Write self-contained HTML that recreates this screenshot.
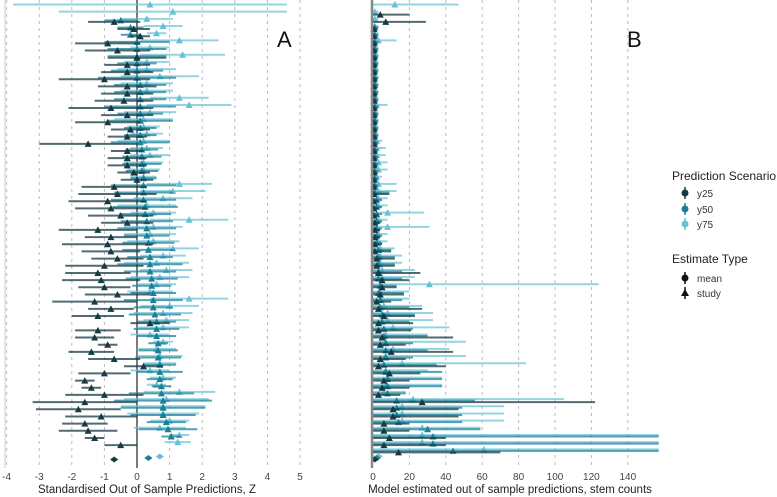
<!DOCTYPE html>
<html><head><meta charset="utf-8">
<style>
body{margin:0;background:#fff;}
svg{display:block;font-family:"Liberation Sans",sans-serif;}
</style></head><body>
<svg id="chart" width="777" height="497" viewBox="0 0 777 497">
<g id="gA"></g>
<g id="gB"></g>
<g id="legend">
<text x="672" y="180" font-size="12" fill="#222">Prediction Scenario</text>
<g><line x1="685" y1="187" x2="685" y2="199" stroke="#173a42" stroke-width="1.5"/><circle cx="685" cy="193" r="3.5" fill="#173a42"/><text x="697" y="197" font-size="10" fill="#333">y25</text></g>
<g><line x1="685" y1="203" x2="685" y2="215" stroke="#1b8097" stroke-width="1.5"/><circle cx="685" cy="209" r="3.5" fill="#1b8097"/><text x="697" y="213" font-size="10" fill="#333">y50</text></g>
<g><line x1="685" y1="218" x2="685" y2="230" stroke="#67c0d6" stroke-width="1.5"/><circle cx="685" cy="224" r="3.5" fill="#67c0d6"/><text x="697" y="228" font-size="10" fill="#333">y75</text></g>
<text x="672" y="263" font-size="12" fill="#222">Estimate Type</text>
<g><line x1="685" y1="272" x2="685" y2="284" stroke="#111" stroke-width="1.5"/><circle cx="685" cy="278" r="3.5" fill="#111"/><text x="697" y="282" font-size="10" fill="#333">mean</text></g>
<g><line x1="685" y1="287" x2="685" y2="299" stroke="#111" stroke-width="1.5"/><path d="M681,296 L689,296 L685,289 Z" fill="#111"/><text x="697" y="297" font-size="10" fill="#333">study</text></g>
</g>
</svg>
<script>
// Panel A data (standardised Z), one row per study; last row = mean
const a25 = [null,null,-0.7,-0.1,0.1,-0.9,-0.6,0.0, -0.3,-0.3,-1.0,-0.3,-0.3,-0.4,-0.8,-0.3, -0.9,-0.2,-0.3,-1.5,-0.3,-0.3,-0.3,-0.1, 0.0,-0.7,-0.6,-0.9,-0.8,-0.5,-0.3,-1.2, -0.8,-0.9,-0.8,-0.6,-1.0,-1.2,-1.1,-1.0, -0.6,-1.3,-0.8,-1.2,0.4,-1.2,-1.3,-0.9, -1.4,-0.7,0.2,-1.0,-1.6,-1.4,-1.0,-1.6, -1.8,-1.1,-1.6,-1.5,-1.3,-0.5,null,-0.7];
const a50 = [null,null,-0.5,-0.2,-0.2,0.0,0.0,0.0, 0.0,0.0,0.0,0.1,0.1,0.1,0.1,0.1, 0.1,0.1,0.1,0.1,0.15,0.15,0.15,0.15, 0.2,0.2,0.2,0.2,0.25,0.25,0.3,0.3, 0.3,0.35,0.35,0.4,0.4,0.4,0.45,0.45, 0.5,0.5,0.5,0.55,0.6,0.6,0.6,0.65, 0.65,0.65,0.7,0.7,0.7,0.75,0.75,0.8, 0.8,0.8,0.9,0.95,1.05,null,null,0.35];
const a75 = [0.4,1.1,0.3,0.8,0.6,1.3,0.4,1.4, 0.3,0.3,0.7,0.3,0.3,1.3,1.6,0.4, 0.2,0.2,0.3,0.2,0.3,0.4,0.2,0.2, 0.2,1.3,1.1,0.8,0.3,0.5,1.6,0.5, 0.4,0.5,1.1,0.8,0.6,0.9,0.7,0.6, 0.4,1.6,1.0,0.8,0.9,0.8,0.4,0.8, 0.6,0.7,0.7,0.4,0.8,0.6,1.3,0.9, 0.8,0.8,1.0,0.7,1.3,1.25,null,0.7];
const aw25 = [0,0,0.8,0.5,0.3,1.0,1.0,0.9, 0.7,0.8,1.4,0.9,0.8,0.9,1.3,0.8, 1.0,0.6,0.6,1.5,0.5,0.6,0.6,0.5, 0.5,1.0,1.2,1.2,1.1,1.0,0.8,1.2, 0.8,1.4,0.9,0.8,1.2,1.0,1.2,0.8, 1.0,1.3,0.7,0.8,0.6,0.7,0.6,0.3, 0.7,0.8,0.6,0.8,0.3,0.3,1.2,1.6, 1.3,1.1,0.7,0.9,0.3,0.5,0,0.1];
const aw50 = [0,0,0.5,0.4,0.3,1.0,0.9,0.9, 0.6,0.8,1.2,0.8,0.8,0.8,1.1,0.7, 1.0,0.5,0.5,0.9,0.5,0.6,0.6,0.5, 0.4,1.0,0.9,1.0,1.0,0.8,0.8,0.9, 0.7,0.8,0.8,0.7,1.0,0.8,0.8,0.6, 0.7,0.9,0.6,0.8,0.6,0.7,0.6,0.3, 0.6,0.7,0.5,0.7,0.4,0.3,1.0,1.5, 1.3,1.0,0.6,0.9,0.3,0,0,0.1];
const aw75 = [4.2,3.5,0.8,0.6,0.3,1.2,0.6,1.3, 0.7,0.9,1.2,0.8,0.8,0.9,1.3,0.8, 0.9,0.5,0.5,0.8,0.5,0.6,0.6,0.5, 0.4,1.0,1.0,0.9,0.9,0.7,1.2,0.9, 0.8,0.8,0.8,0.7,1.0,0.8,0.9,0.6, 0.7,1.2,0.9,0.9,0.7,0.8,0.6,0.3, 0.6,0.7,0.5,0.6,0.4,0.3,1.1,1.3, 1.3,1.1,0.6,0.8,0.3,0.4,0,0.1];
// Panel B data (stem counts): estimates and upper bounds
const b25 = [null,4,7,0.5,0.5,0.5,0.5,0.5, 0.5,0.5,0.5,0.5,0.5,0.5,0.5,0.5, 0.5,0.5,0.5,0.5,0.5,0.5,0.5,0.5, 0.5,0.5,0.5,0.5,0.5,0.5,1,1, 1,1,1,2,2,3,5,5, 4,2,3,6,3,3,5,4, 10,4,3,9,6,5,3,27, 11,11,6,6,9,6,14,1];
const b50 = [null,null,null,1,1,1,1,1, 1,1,1,1,1,1,1,1, 1,1,1,1,1,1,1,1, 1,1,1,2,2,2,2,2, 2,2,3,3,3,3,3,4, 3,4,4,5,5,6,6,7, 7,7,6,7,8,8,8,13, 13,13,14,30,33,33,44,2];
const b75 = [12,1,1,1,1,3,1,1, 1,1,1,1,1,1,2,1, 1,1,1,2,2,2,3,3, 2,3,3,3,3,8,3,8, 3,3,4,4,4,5,5,31, 4,4,6,8,8,11,7,7, 11,7,16,7,8,7,6,22, 16,16,16,27,27,27,61,3];
const h25 = [0,20,29,2,2,2,2,2, 2,2,2,2,2,2,2,2, 2,2,2,2,2,2,2,2, 2,2,9,3,3,3,4,4, 4,5,10,12,12,26,20,13, 17,10,27,23,22,21,44,18, 44,18,40,26,20,20,15,122, 47,47,20,20,40,40,70,3];
const h50 = [0,0,0,3,3,3,3,3, 3,3,3,3,3,3,3,3, 3,3,3,3,3,3,3,3, 3,3,9,5,5,5,5,5, 5,5,10,12,12,16,16,13, 17,16,20,23,20,22,30,22, 30,22,35,38,38,38,18,56, 49,49,49,59,157,157,157,4];
const h75 = [47,3,3,3,3,13,3,3, 3,3,3,3,3,3,8,3, 3,3,3,5,7,7,8,8, 5,13,13,8,8,28,8,31, 8,8,12,16,16,23,23,124, 20,20,27,33,33,42,30,51, 42,51,84,30,38,38,18,105, 72,72,72,59,157,157,157,5];

const NS='http://www.w3.org/2000/svg';
const col = ['#173a42','#1b8097','#67c0d6'];
const alphaBar = [0.75,0.75,0.7];
const N = a25.length;
const rowTop=6, rowBot=458;
function yRow(i){return rowTop+(rowBot-rowTop)*i/(N-1);}
const xA = v => 137 + v*32.6;
const xB = v => 373 + v*1.82;
function mk(tag,attrs,parent){const e=document.createElementNS(NS,tag);for(const k in attrs)e.setAttribute(k,attrs[k]);parent.appendChild(e);return e;}
const gA=document.getElementById('gA'), gB=document.getElementById('gB');

// Panel A axes
mk('line',{x1:5,y1:0,x2:5,y2:468,stroke:'#ccc','stroke-width':1},gA);
const ticksA=[-4,-3,-2,-1,0,1,2,3,4,5];
ticksA.forEach(t=>{
  if(t!==0){const g=mk('line',{x1:xA(t),y1:0,x2:xA(t),y2:468,stroke:'#bbb','stroke-width':1,'stroke-dasharray':'3,4'},gA);
  
  }
  const tx=mk('text',{x:xA(t),y:480,'font-size':10,'text-anchor':'middle',fill:'#444'},gA);
  tx.textContent=t;
  
  
});
mk('line',{x1:xA(0),y1:0,x2:xA(0),y2:468,stroke:'#222','stroke-width':1.2},gA);
const tA=mk('text',{x:147,y:493,'font-size':11.5,'text-anchor':'middle',fill:'#222'},gA);
tA.textContent='Standardised Out of Sample Predictions, Z';


const lA=mk('text',{x:277,y:47,'font-size':22,fill:'#111'},gA);
lA.textContent='A';



// Panel B axes
const ticksB=[0,20,40,60,80,100,120,140];
ticksB.forEach(t=>{
  if(t!==0){const g=mk('line',{x1:xB(t),y1:0,x2:xB(t),y2:468,stroke:'#bbb','stroke-width':1,'stroke-dasharray':'3,4'},gB);
  
  }
  const tx=mk('text',{x:xB(t),y:480,'font-size':10,'text-anchor':'middle',fill:'#444'},gB);
  tx.textContent=t;
  
  
});
const tB=mk('text',{x:510,y:493,'font-size':11.5,'text-anchor':'middle',fill:'#222'},gB);
tB.textContent='Model estimated out of sample predictions, stem counts';


const lB=mk('text',{x:627,y:47,'font-size':22,fill:'#111'},gB);
lB.textContent='B';



function tri(x,y,c,p){return mk('path',{d:`M${x-3.5},${y+3} L${x+3.5},${y+3} L${x},${y-3.5} Z`,fill:c},p);}
function dia(x,y,c,p){return mk('path',{d:`M${x-4},${y} L${x},${y-3} L${x+4},${y} L${x},${y+3} Z`,fill:c},p);}

// draw A
const serA=[[a25,aw25],[a50,aw50],[a75,aw75]];
const offs=[1.5,0,-1.5];
for(let s=2;s>=0;s--){
  const [vals,ws]=serA[s];
  for(let i=0;i<N;i++){
    const v=vals[i]; if(v===null) continue;
    const y=yRow(i)+offs[s];
    const l=mk('line',{x1:Math.max(5,xA(v-ws[i])),y1:y,x2:Math.min(300,xA(v+ws[i])),y2:y,stroke:col[s],'stroke-width':2,'stroke-opacity':alphaBar[s]},gA);
    
    
    const m=(i===N-1)?dia(xA(v),y,col[s],gA):tri(xA(v),y,col[s],gA);
    
    
  }
}
// draw B
const serB=[[b25,h25],[b50,h50],[b75,h75]];
for(let s=2;s>=0;s--){
  const [vals,hs]=serB[s];
  for(let i=0;i<N;i++){
    const v=vals[i]; if(v===null) continue;
    const y=yRow(i)+offs[s];
    const l=mk('line',{x1:xB(0),y1:y,x2:Math.min(660,xB(hs[i])),y2:y,stroke:col[s],'stroke-width':2,'stroke-opacity':alphaBar[s]},gB);
    
    
    const m=(i===N-1)?dia(xB(v),y,col[s],gB):tri(xB(v),y,col[s],gB);
    
    
  }
}
mk('line',{x1:xB(0)-1,y1:0,x2:xB(0)-1,y2:468,stroke:'#888','stroke-width':2.5},gB);
</script>
</body></html>
